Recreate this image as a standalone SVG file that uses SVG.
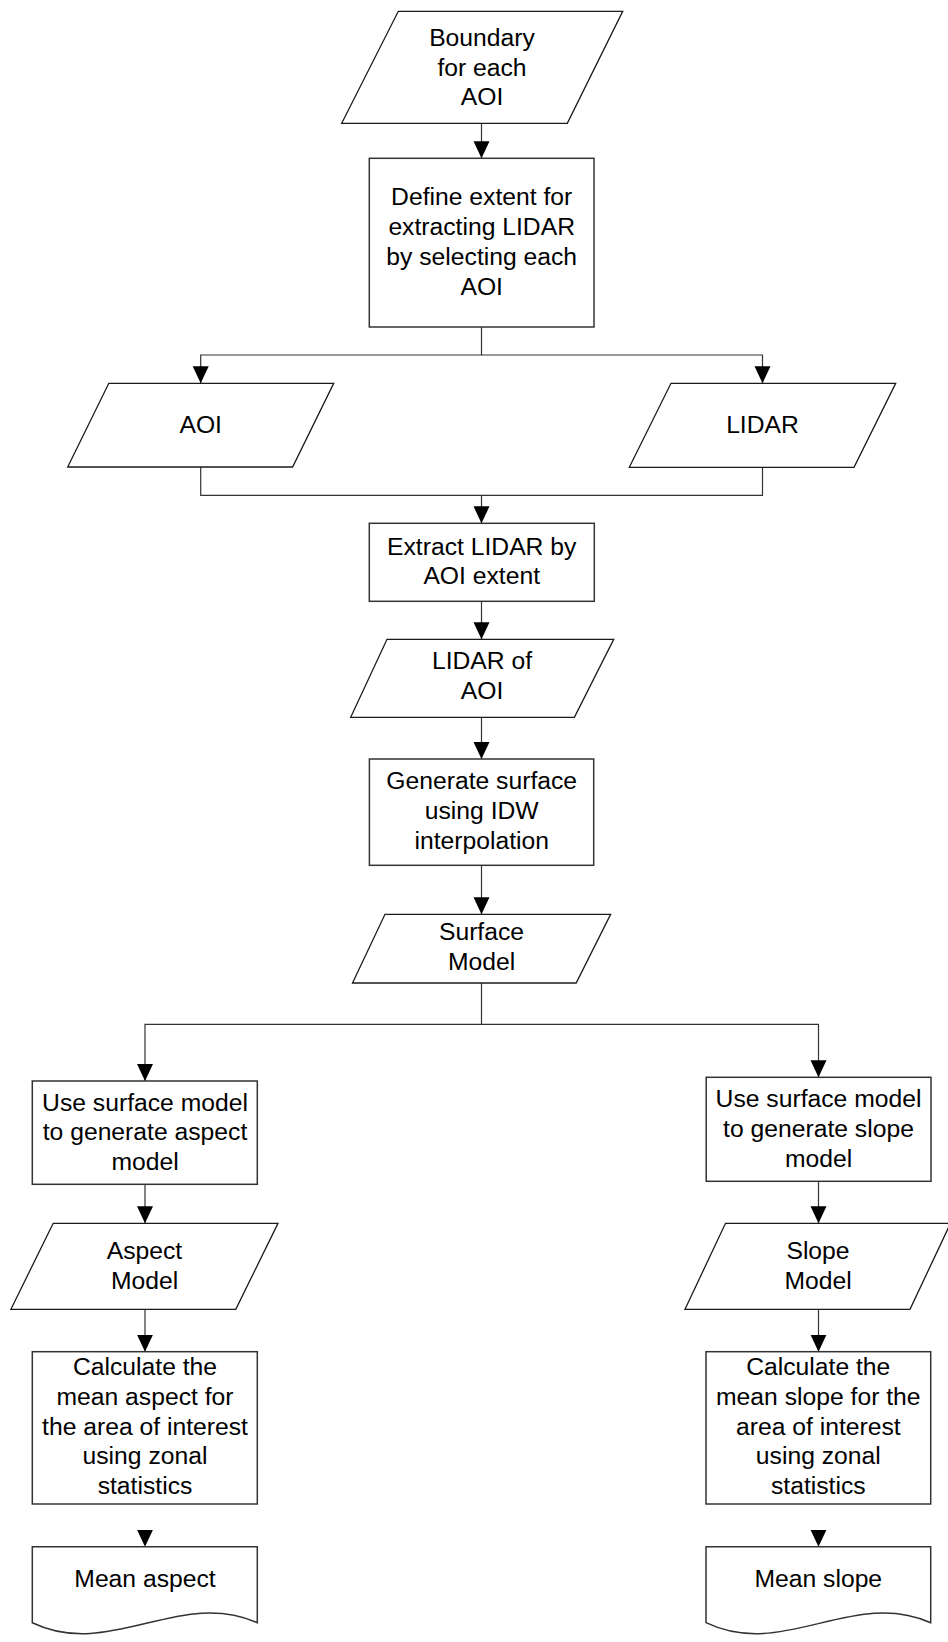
<svg xmlns="http://www.w3.org/2000/svg" width="948" height="1642" viewBox="0 0 948 1642">
<defs>
<style>
.shape{fill:#fff;stroke:#1a1a1a;stroke-width:1.3}
.box{fill:#fff;stroke:#333;stroke-width:1.5}
.conn{fill:none;stroke:#333;stroke-width:1.2}
.t{font-family:"Liberation Sans",Arial,sans-serif;font-size:24.7px;fill:#000;text-anchor:middle}
</style>
<marker id="ah" markerUnits="userSpaceOnUse" markerWidth="17" markerHeight="17" refX="17" refY="8" orient="auto" viewBox="0 0 17 16">
<path d="M0,0 L17,8 L0,16 z" fill="#000"/>
</marker>
</defs>
<rect width="948" height="1642" fill="#fff"/>

<g id="connectors">
<path class="conn" d="M481.5,123.3 V158.3" marker-end="url(#ah)"/>
<path class="conn" d="M481.5,327 V355 H200.7 V383.3" marker-end="url(#ah)"/>
<path class="conn" d="M481.5,355 H762.5 V383.3" marker-end="url(#ah)"/>
<path class="conn" d="M200.7,467 V495.3 H481.5 V523.3" marker-end="url(#ah)"/>
<path class="conn" d="M762.5,467.3 V495.3 H481.5"/>
<path class="conn" d="M481.5,601.3 V639.3" marker-end="url(#ah)"/>
<path class="conn" d="M481.5,717.3 V759" marker-end="url(#ah)"/>
<path class="conn" d="M481.5,865.3 V914.3" marker-end="url(#ah)"/>
<path class="conn" d="M481.5,983 V1024.3 H145 V1081" marker-end="url(#ah)"/>
<path class="conn" d="M481.5,1024.3 H818.5 V1077.3" marker-end="url(#ah)"/>
<path class="conn" d="M145,1184.3 V1223.3" marker-end="url(#ah)"/>
<path class="conn" d="M818.5,1181.3 V1223.3" marker-end="url(#ah)"/>
<path class="conn" d="M145,1309.3 V1351.7" marker-end="url(#ah)"/>
<path class="conn" d="M818.5,1309.3 V1351.7" marker-end="url(#ah)"/>
<path d="M145,1529.7 V1546.7" stroke="none" fill="none" marker-end="url(#ah)"/>
<path d="M818.5,1529.7 V1546.7" stroke="none" fill="none" marker-end="url(#ah)"/>
</g>

<g id="boundary">
<polygon class="shape" points="398.3,11.3 622.7,11.3 567.3,123.3 341.7,123.3"/>
<text class="t" x="482" y="46">Boundary</text>
<text class="t" x="482" y="75.5">for each</text>
<text class="t" x="482" y="105">AOI</text>
</g>

<g id="define">
<rect class="box" x="369.3" y="158.3" width="224.7" height="168.7"/>
<text class="t" x="481.7" y="205">Define extent for</text>
<text class="t" x="481.7" y="235">extracting LIDAR</text>
<text class="t" x="481.7" y="264.5">by selecting each</text>
<text class="t" x="481.7" y="294.5">AOI</text>
</g>

<g id="aoi">
<polygon class="shape" points="108.8,383.3 333.7,383.3 292.6,467 67.7,467"/>
<text class="t" x="200.7" y="432.7">AOI</text>
</g>

<g id="lidar">
<polygon class="shape" points="671,383.3 895.7,383.3 854,467.3 629.3,467.3"/>
<text class="t" x="762.5" y="432.7">LIDAR</text>
</g>

<g id="extract">
<rect class="box" x="369.3" y="523.3" width="225" height="78"/>
<text class="t" x="481.7" y="555">Extract LIDAR by</text>
<text class="t" x="481.7" y="584">AOI extent</text>
</g>

<g id="lidar-aoi">
<polygon class="shape" points="387,639.3 613.7,639.3 574.4,717.3 350.7,717.3"/>
<text class="t" x="482" y="669.3">LIDAR of</text>
<text class="t" x="482" y="699">AOI</text>
</g>

<g id="generate">
<rect class="box" x="369.4" y="759" width="224.3" height="106.3"/>
<text class="t" x="481.7" y="789.3">Generate surface</text>
<text class="t" x="481.7" y="819">using IDW</text>
<text class="t" x="481.7" y="848.5">interpolation</text>
</g>

<g id="surface">
<polygon class="shape" points="385,914.3 610.6,914.3 576.2,983 352.5,983"/>
<text class="t" x="481.5" y="940">Surface</text>
<text class="t" x="481.5" y="970">Model</text>
</g>

<g id="aspect-gen">
<rect class="box" x="32.3" y="1081" width="225" height="103.3"/>
<text class="t" x="145" y="1110.7">Use surface model</text>
<text class="t" x="145" y="1140.3">to generate aspect</text>
<text class="t" x="145" y="1170">model</text>
</g>

<g id="slope-gen">
<rect class="box" x="706.2" y="1077.3" width="224.8" height="104"/>
<text class="t" x="818.5" y="1107.3">Use surface model</text>
<text class="t" x="818.5" y="1137">to generate slope</text>
<text class="t" x="818.5" y="1166.7">model</text>
</g>

<g id="aspect-model">
<polygon class="shape" points="53.2,1223.3 278,1223.3 235.8,1309.3 10.9,1309.3"/>
<text class="t" x="144.5" y="1259.3">Aspect</text>
<text class="t" x="144.5" y="1289.3">Model</text>
</g>

<g id="slope-model">
<polygon class="shape" points="725.5,1223.3 950.5,1223.3 910,1309.3 685,1309.3"/>
<text class="t" x="818" y="1259.3">Slope</text>
<text class="t" x="818" y="1289.3">Model</text>
</g>

<g id="aspect-calc">
<rect class="box" x="32.3" y="1351.7" width="225" height="152.3"/>
<text class="t" x="145" y="1375">Calculate the</text>
<text class="t" x="145" y="1405">mean aspect for</text>
<text class="t" x="145" y="1434.7">the area of interest</text>
<text class="t" x="145" y="1464.3">using zonal</text>
<text class="t" x="145" y="1494">statistics</text>
</g>

<g id="slope-calc">
<rect class="box" x="706" y="1351.7" width="224.7" height="152.3"/>
<text class="t" x="818.3" y="1375">Calculate the</text>
<text class="t" x="818.3" y="1405">mean slope for the</text>
<text class="t" x="818.3" y="1434.7">area of interest</text>
<text class="t" x="818.3" y="1464.3">using zonal</text>
<text class="t" x="818.3" y="1494">statistics</text>
</g>

<g id="mean-aspect">
<path class="box" d="M32.3,1546.7 H257.3 V1622.7 C180,1588 110,1660 32.3,1622.7 Z"/>
<text class="t" x="145" y="1586.7">Mean aspect</text>
</g>

<g id="mean-slope">
<path class="box" d="M706,1546.7 H930.7 V1622.7 C853,1588 783,1660 706,1622.7 Z"/>
<text class="t" x="818.3" y="1586.7">Mean slope</text>
</g>
</svg>
